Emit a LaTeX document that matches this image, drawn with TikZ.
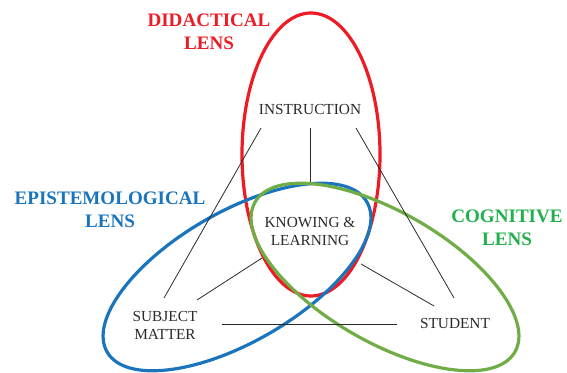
\documentclass[tikz,border=0pt]{standalone}
\usepackage{fontspec}
\setmainfont{Liberation Serif}
\definecolor{lensred}{HTML}{ED1C24}
\definecolor{lensblue}{HTML}{1B75BC}
\definecolor{lensgreen}{HTML}{70AD47}
\definecolor{cogtext}{HTML}{22B04C}
\definecolor{txt}{HTML}{2A2A2A}
\begin{document}
\begin{tikzpicture}[x=0.75pt,y=0.75pt,
  item/.style={text=txt,align=center,inner sep=0pt,font=\fontsize{11.5}{13.5}\selectfont},
  lenslabel/.style={align=center,inner sep=0pt,font=\fontsize{14.3}{17.25}\selectfont\bfseries},
  lens/.style={line width=2.4pt},
  link/.style={draw=txt,line width=0.6pt}]
\useasboundingbox (0,0) rectangle (567,-373);
% lenses
\draw[lens,lensred] (311,-154.5) ellipse [x radius=69, y radius=141.5];
\draw[lens,lensblue] (237,-277) ellipse [x radius=150, y radius=65, rotate=30];
\draw[lens,lensgreen] (385,-277) ellipse [x radius=150, y radius=65, rotate=-30];
% labels
\node[lenslabel,text=lensred] (did) at (209,-31.5) {DIDACTICAL\\LENS};
\node[lenslabel,text=lensblue] (epi) at (110,-210) {EPISTEMOLOGICAL\\LENS};
\node[lenslabel,text=cogtext] (cog) at (507,-228) {COGNITIVE\\LENS};
% items
\node[item] (instr) at (310,-110) {INSTRUCTION};
\node[item] (know) at (310,-231) {KNOWING \&\\LEARNING};
\node[item] (subj) at (165,-325) {SUBJECT\\MATTER};
\node[item] (stud) at (455,-324) {STUDENT};
% connectors
\draw[link] ([shift={(0,-18)}]instr.center) -- ([shift={(0,49)}]know.center);
\draw[link] ([shift={(-49,-18)}]instr.center) -- ([shift={(-1,27)}]subj.center);
\draw[link] ([shift={(46,-18)}]instr.center) -- ([shift={(-1,26)}]stud.center);
\draw[link] ([shift={(-48,-27)}]know.center) -- ([shift={(32,25)}]subj.center);
\draw[link] ([shift={(51,-33)}]know.center) -- ([shift={(-21,18)}]stud.center);
\draw[link] ([shift={(57,1)}]subj.center) -- ([shift={(-58,0)}]stud.center);
\end{tikzpicture}
\end{document}
